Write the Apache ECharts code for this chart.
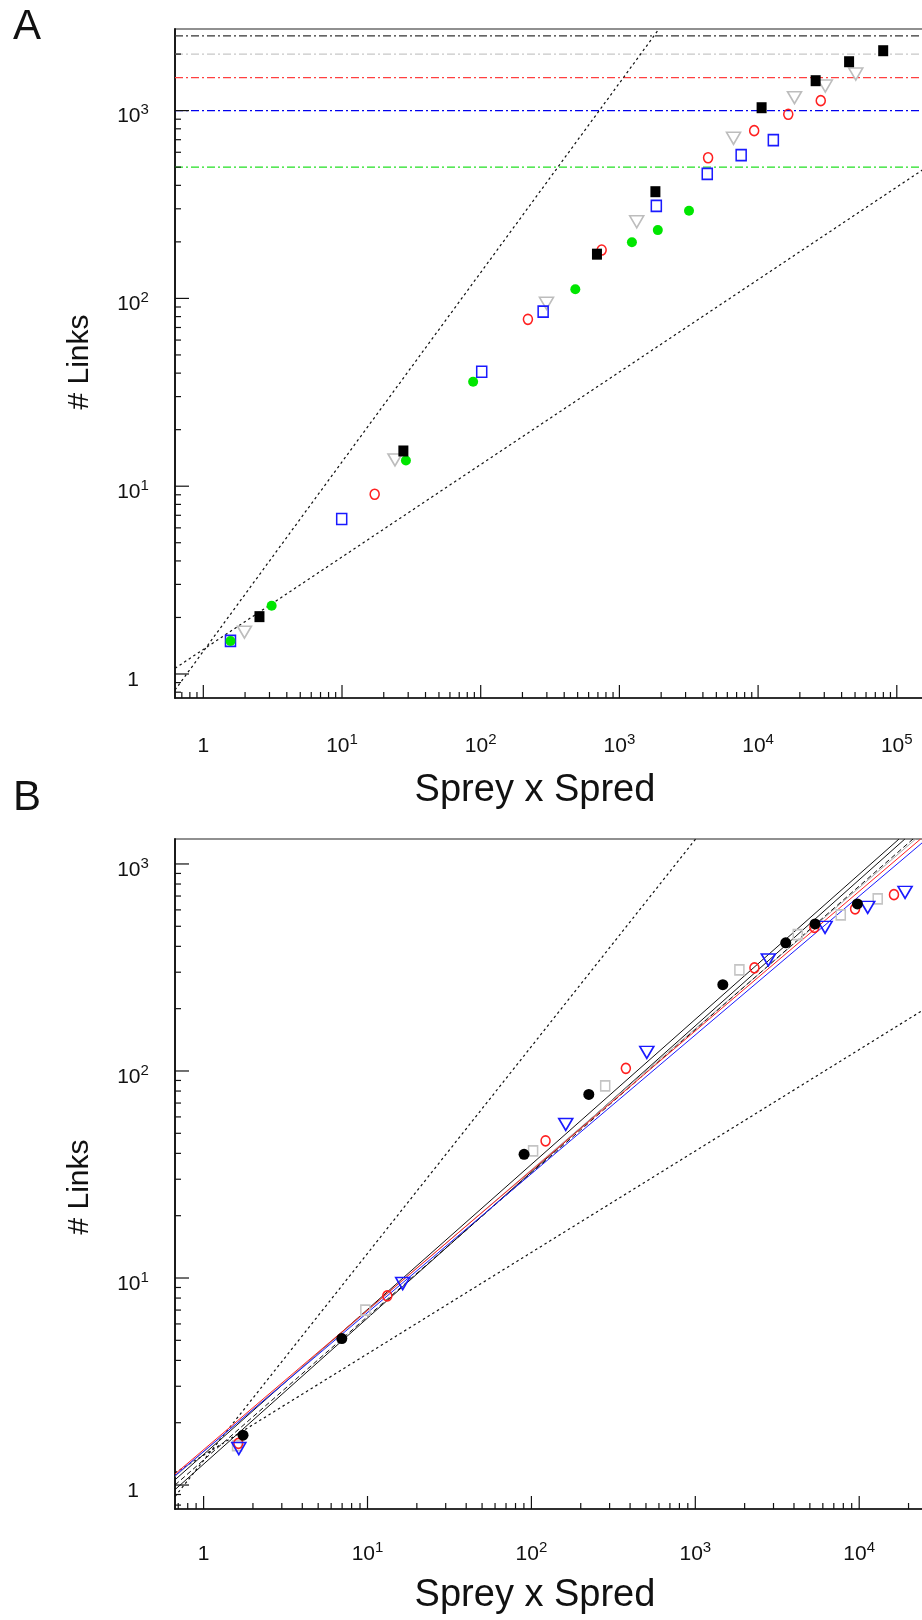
<!DOCTYPE html>
<html>
<head>
<meta charset="utf-8">
<script src="https://cdn.jsdelivr.net/npm/echarts@6/dist/echarts.min.js"></script>
<style>
html,body{margin:0;padding:0;background:#fff;overflow:hidden;}
#main{width:960px;height:1620px;}
</style>
</head>
<body>
<div id="main"></div>
<script>
// ---------------- Panel A data ----------------
const aBlackSquares = [[2.54,2.02],[27.7,15.4],[689,172],[1818,370],[10600,1036],[26000,1443],[45300,1821],[79800,2084]];
const aGreyTriangles = [[1.98,1.67],[24.1,13.8],[298,94.2],[1333,256],[6650,712],[18300,1172],[30500,1352],[50600,1567]];
const aRedCircles = [[17.2,9.06],[219,77.4],[745,181],[4360,561],[9370,782],[16500,956],[28300,1130]];
const aBlueSquares = [[1.57,1.50],[9.95,6.69],[101.7,40.7],[282,85],[1846,311],[4300,460],[7550,580],[12880,697]];
const aGreenCircles = [[1.57,1.50],[3.11,2.31],[28.9,13.7],[88.2,36],[481,112],[1231,199],[1892,231],[3176,293]];
const aLimitValues = [2500, 2000, 1500, 1000, 500];
const aLimitColors = ['#333333', '#c8c8c8', '#ff4040', '#0000f0', '#22e022'];
const aUpperBound = [[0.625,0.822],[1930,2720]];
const aLowerBound = [[0.625,1.072],[241900,605]];

// ---------------- Panel B data ----------------
const bBlackCircles = [[1.74,1.74],[6.97,5.1],[90.2,39.6],[224,77],[1472,261],[3563,416],[5380,513],[9750,641]];
const bGreySquares = [[1.6,1.55],[9.7,7.0],[102.4,41.1],[282,84.8],[1858,308],[4220,456],[7720,568],[12970,678]];
const bRedCircles = [[1.63,1.59],[13.2,8.2],[122,46],[377,103],[2295,315],[5330,494],[9440,607],[16300,711]];
const bBlueTriangles = [[1.64,1.50],[16.4,9.4],[162,55.2],[506,123],[2790,344],[6190,494],[11270,617],[19050,729]];
const bFitBlack1 = [[0.669,1.06],[17500,1320]];
const bFitBlack2 = [[0.669,0.95],[19000,1320]];
const bFitBlackDashed = [[0.669,1.0],[21300,1320]];
const bFitGrey = [[0.669,1.10],[22130,1320]];
const bFitRed = [[0.669,1.13],[23700,1320]];
const bFitBlue = [[0.669,1.11],[25800,1320]];
const bUpperBound = [[0.669,0.88],[1005,1320]];
const bLowerBound = [[0.669,1.144],[35810,237]];

// axis ranges
const axA = {xMin:0.625, xMax:241900, yMin:0.745, yMax:2720};
const axB = {xMin:0.669, xMax:35810, yMin:0.766, yMax:1320};

const FONT = '"Liberation Sans", Arial, Helvetica, sans-serif';
const TXT = '#111';

function decadeLabel(v){
  const e = Math.log10(v); const r = Math.round(e);
  if (Math.abs(e - r) > 1e-6) return '';
  return r === 0 ? '{b|1}' : '{b|10}{s|' + r + '}';
}
const richLabel = {
  b:{fontSize:21, lineHeight:28, fontFamily:FONT, color:TXT},
  s:{fontSize:15, lineHeight:12, verticalAlign:'top', fontFamily:FONT, color:TXT}
};

function tickList(min, max){
  const out = [];
  for (let k = Math.floor(Math.log10(min)) - 1; k <= Math.ceil(Math.log10(max)); k++){
    for (let m = 1; m <= 9; m++){
      const v = m * Math.pow(10, k);
      if (v > min * 1.0001 && v < max * 0.9999) out.push([v, m === 1 ? 1 : 0]);
    }
  }
  return out;
}

function xTicks(idx, ax){
  return {type:'custom', xAxisIndex:idx, yAxisIndex:idx, silent:true, z:6, clip:false, animation:false,
    data: tickList(ax.xMin, ax.xMax).map(t => [t[0], ax.yMin, t[1]]),
    encode:{x:0, y:1},
    renderItem:(params, api) => {
      const p = api.coord([api.value(0), api.value(1)]);
      const L = api.value(2) ? 13 : 6;
      return {type:'line', shape:{x1:p[0], y1:p[1], x2:p[0], y2:p[1]-L}, style:{stroke:'#111', lineWidth:1.2}};
    }};
}
function yTicks(idx, ax){
  return {type:'custom', xAxisIndex:idx, yAxisIndex:idx, silent:true, z:6, clip:false, animation:false,
    data: tickList(ax.yMin, ax.yMax).map(t => [ax.xMin, t[0], t[1]]),
    encode:{x:0, y:1},
    renderItem:(params, api) => {
      const p = api.coord([api.value(0), api.value(1)]);
      const L = api.value(2) ? 14 : 6;
      return {type:'line', shape:{x1:p[0], y1:p[1], x2:p[0]+L, y2:p[1]}, style:{stroke:'#111', lineWidth:1.2}};
    }};
}

function lineSeries(idx, data, color, type, width, z){
  return {type:'line', xAxisIndex:idx, yAxisIndex:idx, data:data, showSymbol:false, symbol:'none',
    silent:true, animation:false, z:z||2, clip:true,
    lineStyle:{color:color, width:width||1.2, type:type||'solid'}};
}
function scatter(idx, data, symbol, size, color, filled, rotate){
  return {type:'scatter', xAxisIndex:idx, yAxisIndex:idx, data:data, symbol:symbol, symbolSize:size,
    symbolRotate:rotate||0, silent:true, animation:false, z:4,
    itemStyle: filled ? {color:color, borderWidth:0, opacity:1} : {color:'rgba(0,0,0,0)', borderColor:color, borderWidth:1.6, opacity:1}};
}

function xAxisCfg(idx, ax, margin){
  return {type:'log', logBase:10, gridIndex:idx, min:ax.xMin, max:ax.xMax,
    axisLine:{show:true, lineStyle:{color:'#111', width:1.5}},
    axisTick:{show:false}, splitLine:{show:false}, minorTick:{show:false},
    axisLabel:{formatter:decadeLabel, rich:richLabel, margin:margin, verticalAlign:'middle', align:'center'}};
}
function yAxisCfg(idx, ax){
  return {type:'log', logBase:10, gridIndex:idx, min:ax.yMin, max:ax.yMax,
    axisLine:{show:true, lineStyle:{color:'#111', width:1.8}},
    axisTick:{show:false}, splitLine:{show:false}, minorTick:{show:false},
    axisLabel:{formatter:decadeLabel, rich:richLabel, margin:42, align:'center', verticalAlign:'middle', padding:[12,0,0,0]}};
}

const series = [];
// Panel A
aLimitValues.forEach((v, i) => {
  series.push(lineSeries(0, [[axA.xMin, v],[axA.xMax, v]], aLimitColors[i], [8,3,2,3], 1.3, 2));
});
series.push(lineSeries(0, aUpperBound, '#111', [2.5,3], 1.2, 2));
series.push(lineSeries(0, aLowerBound, '#111', [2.5,3], 1.2, 2));
series.push(scatter(0, aGreyTriangles, 'triangle', [14,12], '#bdbdbd', false, 180));
series.push(scatter(0, aRedCircles, 'circle', [9,10], '#ff2020', false));
series.push(scatter(0, aBlueSquares, 'rect', [10,11], '#1a1aff', false));
series.push(scatter(0, aGreenCircles, 'circle', 10, '#00e600', true));
series.push(scatter(0, aBlackSquares, 'rect', [10,11], '#000000', true));
series.push(xTicks(0, axA));
series.push(yTicks(0, axA));

// Panel B
series.push(lineSeries(1, bUpperBound, '#111', [2.5,3], 1.2, 2));
series.push(lineSeries(1, bLowerBound, '#111', [2.5,3], 1.2, 2));
series.push(lineSeries(1, bFitBlack2, '#111', 'solid', 1, 2));
series.push(lineSeries(1, bFitBlack1, '#111', 'solid', 1, 2));
series.push(lineSeries(1, bFitGrey, '#aaaaaa', 'solid', 1, 2));
series.push(lineSeries(1, bFitBlackDashed, '#111', [5,3], 1, 2));
series.push(lineSeries(1, bFitBlue, '#1a1aff', 'solid', 1, 2));
series.push(lineSeries(1, bFitRed, '#ff2020', 'solid', 1, 2));
series.push(scatter(1, bGreySquares, 'rect', [9,10], '#c4c4c4', false));
series.push(scatter(1, bRedCircles, 'circle', [9,10], '#ff2020', false));
series.push(scatter(1, bBlueTriangles, 'triangle', [14,12], '#1a1aff', false, 180));
series.push(scatter(1, bBlackCircles, 'circle', 11, '#000000', true));
series.push(xTicks(1, axB));
series.push(yTicks(1, axB));

const textEl = (x, y, text, size, rot) => ({type:'text', x:x, y:y, rotation:rot||0, silent:true, z:10,
  style:{text:text, fontSize:size, fontFamily:FONT, fill:TXT, align:'center', verticalAlign:'middle'}});

const option = {
  animation:false,
  backgroundColor:'#ffffff',
  grid:[
    {left:175, top:29, width:775, height:669, show:true, borderColor:'#222', borderWidth:1.2, backgroundColor:'transparent'},
    {left:175, top:839, width:775, height:670, show:true, borderColor:'#222', borderWidth:1.2, backgroundColor:'transparent'}
  ],
  xAxis:[xAxisCfg(0, axA, 48), xAxisCfg(1, axB, 45)],
  yAxis:[yAxisCfg(0, axA), yAxisCfg(1, axB)],
  graphic:[
    textEl(27, 27, 'A', 42),
    textEl(27, 798, 'B', 42),
    textEl(535, 791, 'Sprey x Spred', 38),
    textEl(535, 1596, 'Sprey x Spred', 38),
    textEl(80, 362, '# Links', 30, Math.PI/2),
    textEl(80, 1187, '# Links', 30, Math.PI/2)
  ],
  series:series
};

const chart = echarts.init(document.getElementById('main'), null, {renderer:'canvas'});
chart.setOption(option);
</script>
</body>
</html>
